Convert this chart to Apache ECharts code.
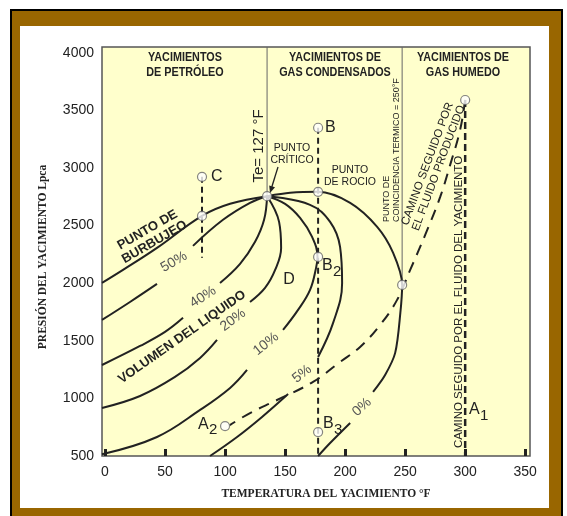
<!DOCTYPE html>
<html><head><meta charset="utf-8">
<script src="https://cdn.jsdelivr.net/npm/echarts@6/dist/echarts.min.js"></script>
<style>
html,body{margin:0;padding:0;background:#fff;width:567px;height:516px;overflow:hidden;}
#frame{position:absolute;left:10px;top:9px;width:553px;height:520px;background:#000;}
#brown{position:absolute;left:12px;top:11px;width:549px;height:520px;background:#996600;}
#inner{position:absolute;left:20px;top:26px;width:529px;height:482px;background:#fff;}
#chart{position:absolute;left:0;top:0;width:567px;height:516px;}
</style></head><body>
<div id="frame"></div><div id="brown"></div><div id="inner"></div>
<div id="chart"></div>
<script>
// ---- data (Temperatura °F, Presión Lpca) ----
const xTicks = [0, 50, 100, 150, 200, 250, 300, 350];
const yTicks = [500, 1000, 1500, 2000, 2500, 3000, 3500, 4000];
const crit = [135, 2755];
const bubble = [[-2.5,2002],[15,2115],[43.3,2306],[80.8,2584],[104.2,2689],[135,2755]];
const q50 = [[-2.5,1681],[20.8,1837],[43.3,1994],null,[73.3,2324],[98.3,2550],[120.8,2697],[135,2755]];
const q40 = [[-2.5,1290],[29.2,1455],[50,1577],[65,1699],null,[95.8,2002],[112.5,2168],[125,2359],[132.5,2550],[135,2755]];
const q20 = [[-2.5,917],[29.2,1021],[58.3,1186],[79.2,1351],[93.3,1507],null,[120.8,1837],[133.3,1959],[141.7,2115],[146.7,2306],[145,2532],[135,2755]];
const q10 = [[-2.5,515],[43.3,665],[79.2,900],[104.2,1091],[118.3,1247],null,[148.3,1594],[160.8,1768],[170.8,1942],[175.8,2133],[177,2228],[172.5,2402],[162.5,2567],[150,2689],[135,2755]];
const q5 = [[87.5,500],[110,665],[130.8,839],[152.5,1038],null,[177.5,1360],[190,1655],[197.5,2002],[195.8,2315],[187.5,2532],[170.8,2680],[135,2755]];
const dew = [[135,2755],[154.2,2784],[177.5,2793],[204.2,2697],[226.7,2489],[240,2263],[247.5,1985],[246,1742],[241.7,1395],[233.3,1203],[223.3,1056],null,[204.2,787],[187.5,613],[177.5,500]];
const producedPath = [[300,3590],[295.8,3331],[287.5,3027],[279.2,2749],[266.7,2419],[254.2,2115],[243.3,1855],[229.2,1638],[212.5,1447],[195.8,1316],[173.3,1143],[143.3,986],[120.8,873],[104,768]];
const teLine = [[135,4050],[135,2755]];
const cricoLine = [[247.5,4050],[247.5,1985]];
const cLine = [[80.8,2923],[80.8,2220]];
const bLine = [[177.5,3349],[177.5,500]];
const aLine = [[300,3590],[300,500]];
const points = [[135,2755],[80.8,2923],[80.8,2584],[177.5,3349],[177.5,2793],[177.5,2228],[177.5,708],[300,3590],[100,760],[247.5,1985]];

function segments(arr){
  const out=[]; let cur=[];
  arr.forEach(p=>{ if(p===null){ if(cur.length) out.push(cur); cur=[]; } else cur.push(p); });
  if(cur.length) out.push(cur);
  return out;
}
const series=[];
function addLine(arr, style, z, smooth){
  segments(arr).forEach(seg=>{
    series.push({type:'line', data:seg, smooth:smooth, symbol:'none', silent:true, z:z,
      lineStyle:style});
  });
}
const solid={color:'#222', width:2};
addLine(teLine,{color:'#666',width:1},2,false);
addLine(cricoLine,{color:'#666',width:1},2,false);
[bubble,q50,q40,q20,q10,q5].forEach(c=>addLine(c,solid,3,0.4));
addLine(dew,solid,3,0.3);
addLine(cLine,{color:'#222',width:2,type:[6,4]},3,false);
addLine(bLine,{color:'#222',width:2,type:[6,4]},3,false);
addLine(aLine,{color:'#222',width:2.5,type:[7,4]},3,false);
addLine(producedPath,{color:'#222',width:2,type:[11,8]},3,0.4);
series.push({type:'scatter', data:points, symbol:'circle', symbolSize:9, z:5, silent:true,
  itemStyle:{color:'#fff', borderColor:'#666', borderWidth:1.2}});

const R=Math.PI/180;
const F='"Liberation Sans", Arial, sans-serif';
function T(text,x,y,o){ o=o||{};
  return {type:'text', x:x, y:y, rotation:(o.rot||0)*R, scaleX:o.sx||1, z:10, silent:true,
    style:{text:text, fill:o.color||'#222', font:(o.weight||'normal')+' '+(o.size||14)+'px '+(o.family||F),
      align:o.align||'center', verticalAlign:o.va||'middle', lineHeight:o.lh||((o.size||14)+2)}};
}
const graphics=[
  T('YACIMIENTOS\nDE PETRÓLEO',185,65.5,{weight:'bold',size:12,lh:15,sx:0.9}),
  T('YACIMIENTOS DE\nGAS CONDENSADOS',335,65.5,{weight:'bold',size:12,lh:15,sx:0.9}),
  T('YACIMIENTOS DE\nGAS HUMEDO',463,65.5,{weight:'bold',size:12,lh:15,sx:0.9}),
  T('Te= 127 °F',259,146,{rot:90,size:15}),
  T('PUNTO\nCRÍTICO',292,154,{size:10.5,lh:12.5}),
  T('PUNTO\nDE ROCIO',350,176,{size:10.5,lh:12.5}),
  T('PUNTO DE\nCOINCIDENCIA TERMICO = 250°F',392,222,{rot:90,size:9,lh:10,align:'left'}),
  T('CAMINO SEGUIDO POR\nEL FLUIDO PRODUCIDO',433,166,{rot:69.6,size:11.5,lh:12}),
  T('CAMINO SEGUIDO POR EL FLUIDO DEL YACIMIENTO',459,302,{rot:90,size:11.5}),
  T('PUNTO DE\nBURBUJEO',151,236,{rot:30,size:13,weight:'bold',lh:14}),
  T('VOLUMEN DEL LIQUIDO',182,337,{rot:35,size:13,weight:'bold'}),
  T('50%',174,262,{rot:30,size:14,color:'#555'}),
  T('40%',203,297,{rot:33,size:14,color:'#555'}),
  T('20%',233,320,{rot:37,size:14,color:'#555'}),
  T('10%',266,344,{rot:39,size:14,color:'#555'}),
  T('5%',302,374,{rot:38,size:14,color:'#555'}),
  T('0%',362,407,{rot:42,size:14,color:'#555'}),
  T('C',211,177,{size:16,align:'left'}),
  T('B',325,128,{size:16,align:'left'}),
  T('D',289,280,{size:16}),
  T('B',322,266,{size:16,align:'left'}), T('2',333,272,{size:15,align:'left'}),
  T('B',323,424,{size:16,align:'left'}), T('3',334,430,{size:15,align:'left'}),
  T('A',198,425,{size:16,align:'left'}), T('2',209,430,{size:15,align:'left'}),
  T('A',469,410,{size:16,align:'left'}), T('1',480,416,{size:15,align:'left'}),
  T('PRESIÓN DEL YACIMIENTO Lpca',43,257,{rot:90,size:11.5,weight:'bold',family:'"Liberation Serif", "Times New Roman", serif'}),
  T('TEMPERATURA DEL YACIMIENTO °F',326,494,{size:11.5,weight:'bold',family:'"Liberation Serif", "Times New Roman", serif'}),
  {type:'line', z:10, silent:true, shape:{x1:278,y1:167,x2:271.8,y2:187}, style:{stroke:'#222',lineWidth:1.3}},
  {type:'polygon', z:10, silent:true, shape:{points:[[270,193],[275,187.2],[269.2,185.4]]}, style:{fill:'#222'}}
];

const chart=echarts.init(document.getElementById('chart'),null,{renderer:'canvas'});
chart.setOption({
  animation:false,
  backgroundColor:'transparent',
  grid:{left:102, top:47, width:428, height:409, show:true, backgroundColor:'#FFFFCC', borderColor:'#555', borderWidth:1.5},
  xAxis:{type:'value', min:-2.5, max:354,
    axisLine:{show:false}, splitLine:{show:false},
    axisTick:{show:true, inside:true, length:7, customValues:xTicks, lineStyle:{color:'#222', width:3}},
    axisLabel:{customValues:xTicks, fontSize:14, color:'#222', margin:9, fontFamily:'Liberation Sans', formatter:v=>String(v)}},
  yAxis:{type:'value', min:500, max:4050,
    axisLine:{show:false}, splitLine:{show:false}, axisTick:{show:false},
    axisLabel:{customValues:yTicks, fontSize:14, color:'#222', margin:8, fontFamily:'Liberation Sans', formatter:v=>String(v)}},
  series:series,
  graphic:graphics
});
</script>
</body></html>
